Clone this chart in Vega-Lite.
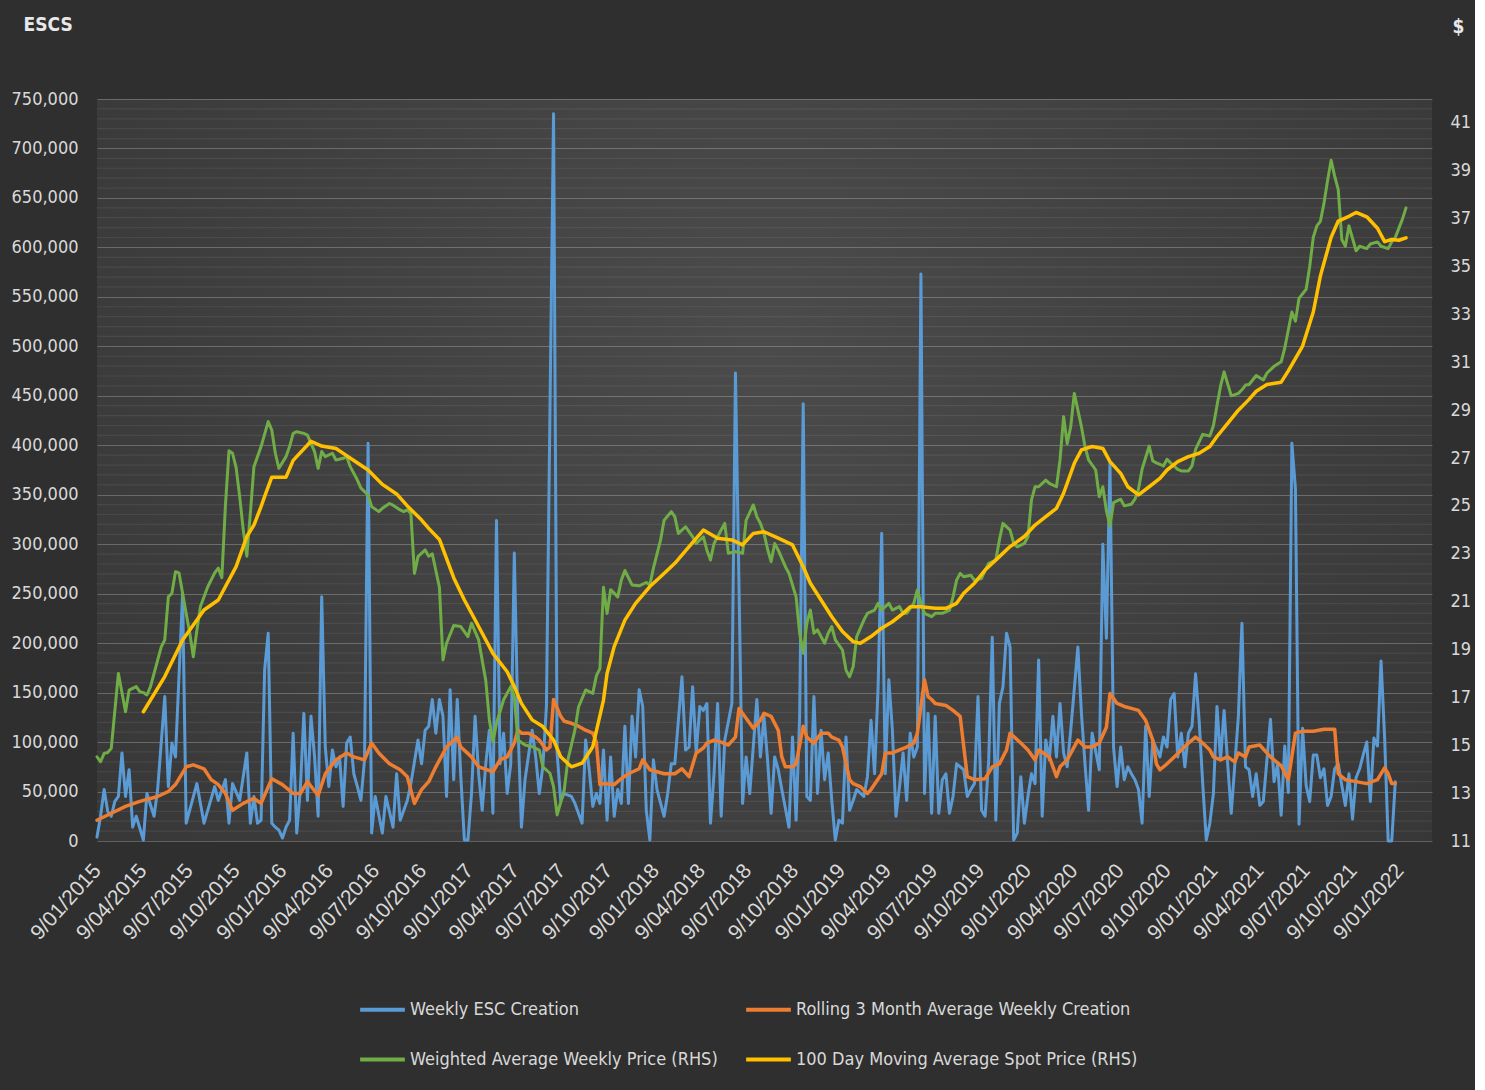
{
"$schema":"https://vega.github.io/schema/vega-lite/v6.json",
"width":1335,"height":742,
"autosize":{"type":"none"},
"padding":{"left":97,"top":99,"right":43,"bottom":249},
"background":"#2f2f2f",
"config":{
"font":"DejaVu Sans Condensed, sans-serif",
"view":{"stroke":null,"fill":{"gradient":"radial","x1":0.5,"y1":0.4,"x2":0.5,"y2":0.4,"r1":0,"r2":0.8,"stops":[{"offset":0,"color":"#4b4b4b"},{"offset":1,"color":"#323232"}]}},
"axis":{"domain":false,"ticks":false,"labelOverlap":false,"labelColor":"#d9d9d9","labelFont":"DejaVu Sans Condensed, sans-serif","labelFontSize":18,"titleColor":"#e8e8e8","titleFont":"DejaVu Sans Condensed, sans-serif"},
"line":{"strokeJoin":"round","strokeCap":"round"}
},
"datasets":{
"minorgrid":[{"g":10000},{"g":20000},{"g":30000},{"g":40000},{"g":60000},{"g":70000},{"g":80000},{"g":90000},{"g":110000},{"g":120000},{"g":130000},{"g":140000},{"g":160000},{"g":170000},{"g":180000},{"g":190000},{"g":210000},{"g":220000},{"g":230000},{"g":240000},{"g":260000},{"g":270000},{"g":280000},{"g":290000},{"g":310000},{"g":320000},{"g":330000},{"g":340000},{"g":360000},{"g":370000},{"g":380000},{"g":390000},{"g":410000},{"g":420000},{"g":430000},{"g":440000},{"g":460000},{"g":470000},{"g":480000},{"g":490000},{"g":510000},{"g":520000},{"g":530000},{"g":540000},{"g":560000},{"g":570000},{"g":580000},{"g":590000},{"g":610000},{"g":620000},{"g":630000},{"g":640000},{"g":660000},{"g":670000},{"g":680000},{"g":690000},{"g":710000},{"g":720000},{"g":730000},{"g":740000}],
"blue":[
{"d":"2015-01-09","v":4000},{"d":"2015-01-16","v":25000},{"d":"2015-01-23","v":52000},{"d":"2015-01-30","v":30000},{"d":"2015-02-06","v":25000},{"d":"2015-02-13","v":40000},{"d":"2015-02-20","v":45000},{"d":"2015-02-27","v":89000},{"d":"2015-03-06","v":45000},{"d":"2015-03-13","v":72000},{"d":"2015-03-20","v":14000},{"d":"2015-03-27","v":25000},{"d":"2015-04-10","v":1000},{"d":"2015-04-17","v":48000},{"d":"2015-05-01","v":25000},{"d":"2015-05-08","v":52000},{"d":"2015-05-22","v":146000},{"d":"2015-05-29","v":55000},{"d":"2015-06-05","v":99000},{"d":"2015-06-12","v":85000},{"d":"2015-06-26","v":250000},{"d":"2015-07-03","v":18000},{"d":"2015-07-24","v":58000},{"d":"2015-08-07","v":18000},{"d":"2015-08-28","v":55000},{"d":"2015-09-04","v":41000},{"d":"2015-09-18","v":62000},{"d":"2015-09-25","v":18000},{"d":"2015-10-02","v":58000},{"d":"2015-10-16","v":41000},{"d":"2015-10-30","v":89000},{"d":"2015-11-06","v":18000},{"d":"2015-11-13","v":45000},{"d":"2015-11-20","v":18000},{"d":"2015-11-27","v":21000},{"d":"2015-12-04","v":173000},{"d":"2015-12-11","v":210000},{"d":"2015-12-18","v":18000},{"d":"2015-12-25","v":14000},
{"d":"2016-01-01","v":11000},{"d":"2016-01-08","v":3000},{"d":"2016-01-15","v":14000},{"d":"2016-01-22","v":21000},{"d":"2016-01-29","v":109000},{"d":"2016-02-05","v":8000},{"d":"2016-02-12","v":52000},{"d":"2016-02-19","v":129000},{"d":"2016-02-26","v":41000},{"d":"2016-03-04","v":126000},{"d":"2016-03-11","v":85000},{"d":"2016-03-18","v":25000},{"d":"2016-03-25","v":247000},{"d":"2016-04-01","v":95000},{"d":"2016-04-08","v":55000},{"d":"2016-04-15","v":92000},{"d":"2016-04-22","v":75000},{"d":"2016-04-29","v":85000},{"d":"2016-05-06","v":35000},{"d":"2016-05-13","v":99000},{"d":"2016-05-20","v":105000},{"d":"2016-05-27","v":68000},{"d":"2016-06-03","v":55000},{"d":"2016-06-10","v":41000},{"d":"2016-06-17","v":82000},{"d":"2016-06-24","v":402000},{"d":"2016-07-01","v":8000},{"d":"2016-07-08","v":45000},{"d":"2016-07-22","v":8000},{"d":"2016-07-29","v":45000},{"d":"2016-08-12","v":14000},{"d":"2016-08-19","v":68000},{"d":"2016-08-26","v":21000},{"d":"2016-09-09","v":41000},{"d":"2016-09-16","v":58000},{"d":"2016-09-30","v":102000},{"d":"2016-10-07","v":78000},{"d":"2016-10-14","v":112000},{"d":"2016-10-21","v":116000},{"d":"2016-10-28","v":143000},{"d":"2016-11-04","v":109000},{"d":"2016-11-11","v":143000},{"d":"2016-11-18","v":126000},{"d":"2016-11-25","v":45000},{"d":"2016-12-02","v":153000},{"d":"2016-12-09","v":62000},{"d":"2016-12-16","v":143000},{"d":"2016-12-23","v":65000},{"d":"2016-12-30","v":1000},
{"d":"2017-01-06","v":1000},{"d":"2017-01-13","v":48000},{"d":"2017-01-20","v":126000},{"d":"2017-01-27","v":68000},{"d":"2017-02-03","v":31000},{"d":"2017-02-10","v":78000},{"d":"2017-02-17","v":112000},{"d":"2017-02-24","v":28000},{"d":"2017-03-03","v":324000},{"d":"2017-03-10","v":78000},{"d":"2017-03-17","v":109000},{"d":"2017-03-24","v":48000},{"d":"2017-03-31","v":78000},{"d":"2017-04-07","v":291000},{"d":"2017-04-14","v":119000},{"d":"2017-04-21","v":14000},{"d":"2017-04-28","v":62000},{"d":"2017-05-12","v":112000},{"d":"2017-05-19","v":85000},{"d":"2017-05-26","v":48000},{"d":"2017-06-02","v":75000},{"d":"2017-06-09","v":136000},{"d":"2017-06-23","v":735000},{"d":"2017-06-30","v":89000},{"d":"2017-07-07","v":41000},{"d":"2017-07-14","v":48000},{"d":"2017-07-28","v":45000},{"d":"2017-08-04","v":38000},{"d":"2017-08-18","v":18000},{"d":"2017-08-25","v":102000},{"d":"2017-09-01","v":72000},{"d":"2017-09-08","v":35000},{"d":"2017-09-15","v":48000},{"d":"2017-09-22","v":38000},{"d":"2017-09-29","v":92000},{"d":"2017-10-06","v":21000},{"d":"2017-10-13","v":85000},{"d":"2017-10-20","v":25000},{"d":"2017-10-27","v":52000},{"d":"2017-11-03","v":38000},{"d":"2017-11-10","v":116000},{"d":"2017-11-17","v":38000},{"d":"2017-11-24","v":126000},{"d":"2017-12-01","v":85000},{"d":"2017-12-08","v":153000},{"d":"2017-12-15","v":136000},{"d":"2017-12-22","v":31000},{"d":"2017-12-29","v":1000},
{"d":"2018-01-05","v":82000},{"d":"2018-01-12","v":52000},{"d":"2018-01-26","v":25000},{"d":"2018-02-02","v":48000},{"d":"2018-02-09","v":78000},{"d":"2018-02-16","v":78000},{"d":"2018-03-02","v":166000},{"d":"2018-03-09","v":92000},{"d":"2018-03-16","v":95000},{"d":"2018-03-23","v":156000},{"d":"2018-03-30","v":89000},{"d":"2018-04-06","v":136000},{"d":"2018-04-13","v":132000},{"d":"2018-04-20","v":139000},{"d":"2018-04-27","v":18000},{"d":"2018-05-04","v":68000},{"d":"2018-05-11","v":139000},{"d":"2018-05-18","v":25000},{"d":"2018-05-25","v":102000},{"d":"2018-06-08","v":139000},{"d":"2018-06-15","v":473000},{"d":"2018-06-29","v":38000},{"d":"2018-07-06","v":85000},{"d":"2018-07-13","v":48000},{"d":"2018-07-27","v":143000},{"d":"2018-08-03","v":85000},{"d":"2018-08-10","v":126000},{"d":"2018-08-17","v":82000},{"d":"2018-08-24","v":28000},{"d":"2018-08-31","v":85000},{"d":"2018-09-07","v":72000},{"d":"2018-09-14","v":52000},{"d":"2018-09-28","v":14000},{"d":"2018-10-05","v":105000},{"d":"2018-10-12","v":21000},{"d":"2018-10-19","v":126000},{"d":"2018-10-26","v":442000},{"d":"2018-11-02","v":45000},{"d":"2018-11-09","v":41000},{"d":"2018-11-16","v":146000},{"d":"2018-11-23","v":48000},{"d":"2018-11-30","v":112000},{"d":"2018-12-07","v":62000},{"d":"2018-12-14","v":89000},{"d":"2018-12-21","v":41000},{"d":"2018-12-28","v":1000},
{"d":"2019-01-04","v":21000},{"d":"2019-01-11","v":18000},{"d":"2019-01-18","v":105000},{"d":"2019-01-25","v":31000},{"d":"2019-02-01","v":41000},{"d":"2019-02-08","v":52000},{"d":"2019-02-22","v":45000},{"d":"2019-03-01","v":65000},{"d":"2019-03-08","v":122000},{"d":"2019-03-15","v":68000},{"d":"2019-03-22","v":156000},{"d":"2019-03-29","v":311000},{"d":"2019-04-05","v":68000},{"d":"2019-04-12","v":163000},{"d":"2019-04-19","v":112000},{"d":"2019-04-26","v":25000},{"d":"2019-05-03","v":55000},{"d":"2019-05-10","v":89000},{"d":"2019-05-17","v":41000},{"d":"2019-05-24","v":109000},{"d":"2019-05-31","v":85000},{"d":"2019-06-07","v":95000},{"d":"2019-06-14","v":573000},{"d":"2019-06-21","v":48000},{"d":"2019-06-28","v":129000},{"d":"2019-07-05","v":28000},{"d":"2019-07-12","v":126000},{"d":"2019-07-19","v":28000},{"d":"2019-07-26","v":62000},{"d":"2019-08-02","v":68000},{"d":"2019-08-09","v":28000},{"d":"2019-08-16","v":45000},{"d":"2019-08-23","v":78000},{"d":"2019-09-06","v":72000},{"d":"2019-09-13","v":45000},{"d":"2019-09-20","v":52000},{"d":"2019-09-27","v":58000},{"d":"2019-10-04","v":146000},{"d":"2019-10-11","v":31000},{"d":"2019-10-18","v":25000},{"d":"2019-10-25","v":82000},{"d":"2019-11-01","v":206000},{"d":"2019-11-08","v":21000},{"d":"2019-11-15","v":139000},{"d":"2019-11-22","v":156000},{"d":"2019-11-29","v":210000},{"d":"2019-12-06","v":196000},{"d":"2019-12-13","v":1000},{"d":"2019-12-20","v":8000},{"d":"2019-12-27","v":65000},
{"d":"2020-01-03","v":18000},{"d":"2020-01-10","v":45000},{"d":"2020-01-17","v":68000},{"d":"2020-01-24","v":58000},{"d":"2020-01-31","v":183000},{"d":"2020-02-07","v":25000},{"d":"2020-02-14","v":102000},{"d":"2020-02-21","v":82000},{"d":"2020-02-28","v":126000},{"d":"2020-03-06","v":85000},{"d":"2020-03-13","v":139000},{"d":"2020-03-20","v":89000},{"d":"2020-03-27","v":75000},{"d":"2020-04-03","v":112000},{"d":"2020-04-17","v":196000},{"d":"2020-04-24","v":129000},{"d":"2020-05-01","v":78000},{"d":"2020-05-08","v":31000},{"d":"2020-05-15","v":109000},{"d":"2020-05-29","v":72000},{"d":"2020-06-05","v":300000},{"d":"2020-06-12","v":205000},{"d":"2020-06-19","v":382000},{"d":"2020-06-26","v":95000},{"d":"2020-07-03","v":55000},{"d":"2020-07-10","v":95000},{"d":"2020-07-17","v":62000},{"d":"2020-07-24","v":75000},{"d":"2020-07-31","v":68000},{"d":"2020-08-07","v":62000},{"d":"2020-08-14","v":52000},{"d":"2020-08-21","v":18000},{"d":"2020-08-28","v":116000},{"d":"2020-09-04","v":45000},{"d":"2020-09-11","v":102000},{"d":"2020-09-25","v":85000},{"d":"2020-10-02","v":105000},{"d":"2020-10-09","v":95000},{"d":"2020-10-16","v":143000},{"d":"2020-10-23","v":149000},{"d":"2020-10-30","v":85000},{"d":"2020-11-06","v":109000},{"d":"2020-11-13","v":75000},{"d":"2020-11-20","v":109000},{"d":"2020-11-27","v":116000},{"d":"2020-12-04","v":169000},{"d":"2020-12-11","v":122000},{"d":"2020-12-18","v":58000},{"d":"2020-12-25","v":1000},
{"d":"2021-01-01","v":18000},{"d":"2021-01-08","v":48000},{"d":"2021-01-15","v":136000},{"d":"2021-01-22","v":82000},{"d":"2021-01-29","v":132000},{"d":"2021-02-05","v":78000},{"d":"2021-02-12","v":28000},{"d":"2021-02-26","v":126000},{"d":"2021-03-05","v":220000},{"d":"2021-03-12","v":75000},{"d":"2021-03-19","v":72000},{"d":"2021-03-26","v":45000},{"d":"2021-04-02","v":68000},{"d":"2021-04-09","v":36000},{"d":"2021-04-16","v":40000},{"d":"2021-04-30","v":123000},{"d":"2021-05-07","v":60000},{"d":"2021-05-14","v":78000},{"d":"2021-05-21","v":26000},{"d":"2021-05-28","v":96000},{"d":"2021-06-04","v":49000},{"d":"2021-06-11","v":402000},{"d":"2021-06-18","v":356000},{"d":"2021-06-25","v":17000},{"d":"2021-07-02","v":114000},{"d":"2021-07-09","v":56000},{"d":"2021-07-16","v":40000},{"d":"2021-07-23","v":87000},{"d":"2021-07-30","v":87000},{"d":"2021-08-06","v":64000},{"d":"2021-08-13","v":73000},{"d":"2021-08-20","v":36000},{"d":"2021-08-27","v":45000},{"d":"2021-09-03","v":73000},{"d":"2021-09-10","v":78000},{"d":"2021-09-17","v":56000},{"d":"2021-09-24","v":36000},{"d":"2021-10-01","v":68000},{"d":"2021-10-08","v":22000},{"d":"2021-10-15","v":64000},{"d":"2021-10-22","v":73000},{"d":"2021-10-29","v":87000},{"d":"2021-11-05","v":100000},{"d":"2021-11-12","v":40000},{"d":"2021-11-19","v":104000},{"d":"2021-11-26","v":96000},{"d":"2021-12-03","v":182000},{"d":"2021-12-10","v":105000},{"d":"2021-12-17","v":0},{"d":"2021-12-24","v":0},{"d":"2021-12-31","v":60000}
],
"orange":[
{"d":"2015-01-09","v":21000},{"d":"2015-02-06","v":28000},{"d":"2015-03-06","v":35000},{"d":"2015-04-03","v":40000},{"d":"2015-05-08","v":45000},{"d":"2015-05-29","v":50000},{"d":"2015-06-12","v":57000},{"d":"2015-07-03","v":75000},{"d":"2015-07-17","v":77000},{"d":"2015-08-07","v":73000},{"d":"2015-08-21","v":62000},{"d":"2015-09-04","v":57000},{"d":"2015-09-18","v":48000},{"d":"2015-10-02","v":31000},{"d":"2015-10-23","v":38000},{"d":"2015-11-13","v":43000},{"d":"2015-11-27","v":38000},{"d":"2015-12-18","v":63000},
{"d":"2016-01-08","v":57000},{"d":"2016-01-29","v":48000},{"d":"2016-02-12","v":48000},{"d":"2016-02-26","v":60000},{"d":"2016-03-18","v":46000},{"d":"2016-04-01","v":68000},{"d":"2016-04-22","v":82000},{"d":"2016-05-13","v":89000},{"d":"2016-05-27","v":85000},{"d":"2016-06-17","v":82000},{"d":"2016-07-01","v":99000},{"d":"2016-07-15","v":89000},{"d":"2016-08-05","v":78000},{"d":"2016-08-26","v":72000},{"d":"2016-09-09","v":65000},{"d":"2016-09-23","v":38000},{"d":"2016-10-07","v":52000},{"d":"2016-10-21","v":60000},{"d":"2016-11-04","v":75000},{"d":"2016-11-25","v":95000},{"d":"2016-12-16","v":105000},{"d":"2016-12-23","v":95000},
{"d":"2017-01-13","v":85000},{"d":"2017-01-27","v":75000},{"d":"2017-02-24","v":70000},{"d":"2017-03-10","v":82000},{"d":"2017-03-24","v":85000},{"d":"2017-04-07","v":99000},{"d":"2017-04-14","v":112000},{"d":"2017-04-21","v":109000},{"d":"2017-05-05","v":109000},{"d":"2017-05-19","v":105000},{"d":"2017-05-26","v":102000},{"d":"2017-06-09","v":92000},{"d":"2017-06-16","v":95000},{"d":"2017-06-23","v":143000},{"d":"2017-07-07","v":126000},{"d":"2017-07-14","v":121000},{"d":"2017-07-28","v":119000},{"d":"2017-08-11","v":116000},{"d":"2017-08-25","v":112000},{"d":"2017-09-08","v":109000},{"d":"2017-09-15","v":100000},{"d":"2017-09-22","v":57000},{"d":"2017-09-29","v":58000},{"d":"2017-10-20","v":57000},{"d":"2017-11-03","v":63000},{"d":"2017-11-17","v":68000},{"d":"2017-12-08","v":73000},{"d":"2017-12-15","v":82000},{"d":"2017-12-29","v":72000},
{"d":"2018-01-12","v":70000},{"d":"2018-01-26","v":68000},{"d":"2018-02-16","v":68000},{"d":"2018-03-02","v":73000},{"d":"2018-03-16","v":65000},{"d":"2018-03-30","v":89000},{"d":"2018-04-13","v":94000},{"d":"2018-04-20","v":99000},{"d":"2018-05-04","v":102000},{"d":"2018-05-18","v":100000},{"d":"2018-06-01","v":97000},{"d":"2018-06-15","v":105000},{"d":"2018-06-22","v":134000},{"d":"2018-07-13","v":119000},{"d":"2018-07-20","v":114000},{"d":"2018-08-03","v":122000},{"d":"2018-08-10","v":129000},{"d":"2018-08-24","v":126000},{"d":"2018-09-07","v":112000},{"d":"2018-09-14","v":85000},{"d":"2018-09-21","v":75000},{"d":"2018-10-05","v":75000},{"d":"2018-10-12","v":78000},{"d":"2018-10-26","v":116000},{"d":"2018-11-02","v":105000},{"d":"2018-11-16","v":99000},{"d":"2018-11-30","v":109000},{"d":"2018-12-14","v":109000},{"d":"2018-12-21","v":105000},
{"d":"2019-01-04","v":102000},{"d":"2019-01-11","v":95000},{"d":"2019-01-25","v":62000},{"d":"2019-02-01","v":58000},{"d":"2019-02-15","v":55000},{"d":"2019-03-01","v":48000},{"d":"2019-03-08","v":52000},{"d":"2019-03-29","v":68000},{"d":"2019-04-05","v":89000},{"d":"2019-04-19","v":89000},{"d":"2019-05-03","v":92000},{"d":"2019-05-17","v":95000},{"d":"2019-05-31","v":99000},{"d":"2019-06-07","v":109000},{"d":"2019-06-21","v":163000},{"d":"2019-06-28","v":146000},{"d":"2019-07-05","v":143000},{"d":"2019-07-12","v":139000},{"d":"2019-08-02","v":137000},{"d":"2019-08-16","v":132000},{"d":"2019-08-30","v":126000},{"d":"2019-09-13","v":65000},{"d":"2019-09-27","v":62000},{"d":"2019-10-18","v":63000},{"d":"2019-11-01","v":75000},{"d":"2019-11-15","v":78000},{"d":"2019-11-29","v":92000},{"d":"2019-12-06","v":109000},{"d":"2019-12-27","v":99000},
{"d":"2020-01-10","v":92000},{"d":"2020-01-24","v":82000},{"d":"2020-01-31","v":92000},{"d":"2020-02-21","v":85000},{"d":"2020-03-06","v":65000},{"d":"2020-03-13","v":75000},{"d":"2020-03-27","v":82000},{"d":"2020-04-17","v":102000},{"d":"2020-05-01","v":95000},{"d":"2020-05-15","v":95000},{"d":"2020-05-29","v":99000},{"d":"2020-06-12","v":115000},{"d":"2020-06-19","v":149000},{"d":"2020-07-03","v":139000},{"d":"2020-07-17","v":136000},{"d":"2020-07-31","v":134000},{"d":"2020-08-14","v":132000},{"d":"2020-08-28","v":122000},{"d":"2020-09-11","v":102000},{"d":"2020-09-18","v":78000},{"d":"2020-09-25","v":72000},{"d":"2020-10-09","v":78000},{"d":"2020-10-23","v":85000},{"d":"2020-11-06","v":92000},{"d":"2020-11-20","v":99000},{"d":"2020-12-04","v":105000},{"d":"2020-12-18","v":99000},
{"d":"2021-01-01","v":92000},{"d":"2021-01-08","v":85000},{"d":"2021-01-22","v":82000},{"d":"2021-02-05","v":85000},{"d":"2021-02-19","v":80000},{"d":"2021-02-26","v":89000},{"d":"2021-03-12","v":85000},{"d":"2021-03-19","v":95000},{"d":"2021-04-09","v":97000},{"d":"2021-04-30","v":85000},{"d":"2021-05-21","v":76000},{"d":"2021-06-04","v":62000},{"d":"2021-06-18","v":109000},{"d":"2021-07-02","v":111000},{"d":"2021-07-23","v":111000},{"d":"2021-08-13","v":113000},{"d":"2021-09-03","v":113000},{"d":"2021-09-10","v":68000},{"d":"2021-09-24","v":62000},{"d":"2021-10-15","v":60000},{"d":"2021-11-05","v":58000},{"d":"2021-11-26","v":62000},{"d":"2021-12-10","v":74000},{"d":"2021-12-17","v":68000},{"d":"2021-12-24","v":58000},{"d":"2021-12-31","v":58000}
],
"green":[
{"d":"2015-01-09","v":14.52},{"d":"2015-01-16","v":14.31},{"d":"2015-01-23","v":14.66},{"d":"2015-01-30","v":14.7},{"d":"2015-02-06","v":14.87},{"d":"2015-02-20","v":18.0},{"d":"2015-03-06","v":16.4},{"d":"2015-03-13","v":17.3},{"d":"2015-03-27","v":17.45},{"d":"2015-04-03","v":17.24},{"d":"2015-04-10","v":17.2},{"d":"2015-04-17","v":17.1},{"d":"2015-04-24","v":17.45},{"d":"2015-05-01","v":18.0},{"d":"2015-05-15","v":19.1},{"d":"2015-05-22","v":19.4},{"d":"2015-05-29","v":21.2},{"d":"2015-06-05","v":21.35},{"d":"2015-06-12","v":22.25},{"d":"2015-06-19","v":22.2},{"d":"2015-06-26","v":21.35},{"d":"2015-07-03","v":20.5},{"d":"2015-07-10","v":19.7},{"d":"2015-07-17","v":18.7},{"d":"2015-07-24","v":19.8},{"d":"2015-07-31","v":20.8},{"d":"2015-08-14","v":21.6},{"d":"2015-08-28","v":22.2},{"d":"2015-09-04","v":22.4},{"d":"2015-09-11","v":22.0},{"d":"2015-09-18","v":25.0},{"d":"2015-09-25","v":27.3},{"d":"2015-10-02","v":27.2},{"d":"2015-10-09","v":26.6},{"d":"2015-10-16","v":25.4},{"d":"2015-10-23","v":24.0},{"d":"2015-10-30","v":22.9},{"d":"2015-11-06","v":24.7},{"d":"2015-11-13","v":26.64},{"d":"2015-11-27","v":27.48},{"d":"2015-12-11","v":28.52},{"d":"2015-12-18","v":28.17},{"d":"2015-12-25","v":27.2},
{"d":"2016-01-01","v":26.57},{"d":"2016-01-15","v":27.06},{"d":"2016-01-22","v":27.48},{"d":"2016-01-29","v":28.03},{"d":"2016-02-05","v":28.1},{"d":"2016-02-19","v":28.03},{"d":"2016-02-26","v":27.96},{"d":"2016-03-11","v":27.27},{"d":"2016-03-18","v":26.57},{"d":"2016-03-25","v":27.27},{"d":"2016-04-01","v":27.06},{"d":"2016-04-15","v":27.2},{"d":"2016-04-22","v":26.92},{"d":"2016-05-06","v":26.99},{"d":"2016-05-13","v":27.06},{"d":"2016-05-20","v":26.64},{"d":"2016-06-03","v":26.08},{"d":"2016-06-10","v":25.74},{"d":"2016-06-24","v":25.46},{"d":"2016-07-01","v":24.97},{"d":"2016-07-15","v":24.76},{"d":"2016-07-22","v":24.9},{"d":"2016-08-05","v":25.1},{"d":"2016-08-12","v":25.03},{"d":"2016-08-26","v":24.83},{"d":"2016-09-02","v":24.76},{"d":"2016-09-09","v":24.83},{"d":"2016-09-16","v":24.69},{"d":"2016-09-23","v":22.18},{"d":"2016-09-30","v":22.88},{"d":"2016-10-14","v":23.16},{"d":"2016-10-21","v":22.9},{"d":"2016-10-28","v":23.0},{"d":"2016-11-11","v":21.6},{"d":"2016-11-18","v":18.56},{"d":"2016-11-25","v":19.26},{"d":"2016-12-09","v":20.0},{"d":"2016-12-23","v":19.96},
{"d":"2017-01-06","v":19.54},{"d":"2017-01-13","v":20.1},{"d":"2017-01-27","v":19.4},{"d":"2017-02-10","v":17.7},{"d":"2017-02-17","v":16.06},{"d":"2017-02-24","v":15.15},{"d":"2017-03-03","v":15.92},{"d":"2017-03-17","v":16.9},{"d":"2017-03-31","v":17.45},{"d":"2017-04-07","v":17.03},{"d":"2017-04-14","v":15.22},{"d":"2017-04-28","v":15.01},{"d":"2017-05-12","v":14.94},{"d":"2017-05-26","v":14.8},{"d":"2017-06-02","v":14.1},{"d":"2017-06-16","v":13.83},{"d":"2017-06-23","v":13.27},{"d":"2017-06-30","v":12.09},{"d":"2017-07-14","v":13.13},{"d":"2017-07-21","v":14.38},{"d":"2017-08-04","v":15.64},{"d":"2017-08-11","v":16.6},{"d":"2017-08-25","v":17.31},{"d":"2017-09-08","v":17.17},{"d":"2017-09-15","v":17.9},{"d":"2017-09-22","v":18.2},{"d":"2017-09-29","v":21.6},{"d":"2017-10-06","v":20.5},{"d":"2017-10-13","v":21.5},{"d":"2017-10-27","v":21.2},{"d":"2017-11-03","v":21.9},{"d":"2017-11-10","v":22.3},{"d":"2017-11-24","v":21.7},{"d":"2017-12-08","v":21.66},{"d":"2017-12-22","v":21.8},{"d":"2017-12-29","v":21.7},
{"d":"2018-01-05","v":22.4},{"d":"2018-01-19","v":23.57},{"d":"2018-01-26","v":24.4},{"d":"2018-02-09","v":24.76},{"d":"2018-02-16","v":24.55},{"d":"2018-02-23","v":23.85},{"d":"2018-03-09","v":24.13},{"d":"2018-03-23","v":23.71},{"d":"2018-03-30","v":23.43},{"d":"2018-04-13","v":23.71},{"d":"2018-04-20","v":23.15},{"d":"2018-04-27","v":22.74},{"d":"2018-05-04","v":23.43},{"d":"2018-05-18","v":23.99},{"d":"2018-05-25","v":24.27},{"d":"2018-06-01","v":23.02},{"d":"2018-06-15","v":23.09},{"d":"2018-06-29","v":23.02},{"d":"2018-07-06","v":24.41},{"d":"2018-07-20","v":25.04},{"d":"2018-07-27","v":24.55},{"d":"2018-08-03","v":24.27},{"d":"2018-08-10","v":23.85},{"d":"2018-08-17","v":23.2},{"d":"2018-08-24","v":22.67},{"d":"2018-08-31","v":23.43},{"d":"2018-09-07","v":23.15},{"d":"2018-09-21","v":22.46},{"d":"2018-09-28","v":22.18},{"d":"2018-10-12","v":21.2},{"d":"2018-10-19","v":19.68},{"d":"2018-10-26","v":18.84},{"d":"2018-11-02","v":20.09},{"d":"2018-11-09","v":20.65},{"d":"2018-11-16","v":19.68},{"d":"2018-11-23","v":19.82},{"d":"2018-12-07","v":19.26},{"d":"2018-12-14","v":19.68},{"d":"2018-12-21","v":19.96},{"d":"2018-12-28","v":19.4},
{"d":"2019-01-11","v":18.98},{"d":"2019-01-18","v":18.14},{"d":"2019-01-25","v":17.86},{"d":"2019-02-01","v":18.28},{"d":"2019-02-08","v":19.54},{"d":"2019-02-22","v":20.23},{"d":"2019-03-01","v":20.51},{"d":"2019-03-15","v":20.65},{"d":"2019-03-22","v":20.93},{"d":"2019-03-29","v":20.65},{"d":"2019-04-12","v":20.93},{"d":"2019-04-19","v":20.65},{"d":"2019-05-03","v":20.79},{"d":"2019-05-10","v":20.51},{"d":"2019-05-17","v":20.51},{"d":"2019-05-31","v":20.93},{"d":"2019-06-07","v":21.49},{"d":"2019-06-14","v":20.93},{"d":"2019-06-21","v":20.51},{"d":"2019-07-05","v":20.37},{"d":"2019-07-12","v":20.51},{"d":"2019-07-26","v":20.51},{"d":"2019-08-09","v":20.65},{"d":"2019-08-16","v":21.2},{"d":"2019-08-23","v":21.9},{"d":"2019-08-30","v":22.18},{"d":"2019-09-06","v":22.04},{"d":"2019-09-20","v":22.1},{"d":"2019-09-27","v":21.9},{"d":"2019-10-11","v":21.97},{"d":"2019-10-18","v":22.32},{"d":"2019-10-25","v":22.6},{"d":"2019-11-08","v":22.74},{"d":"2019-11-15","v":23.58},{"d":"2019-11-22","v":24.27},{"d":"2019-12-06","v":23.99},{"d":"2019-12-13","v":23.43},{"d":"2019-12-20","v":23.29},
{"d":"2020-01-03","v":23.43},{"d":"2020-01-10","v":23.71},{"d":"2020-01-17","v":25.25},{"d":"2020-01-24","v":25.8},{"d":"2020-01-31","v":25.8},{"d":"2020-02-14","v":26.08},{"d":"2020-02-21","v":25.94},{"d":"2020-03-06","v":25.8},{"d":"2020-03-13","v":26.92},{"d":"2020-03-20","v":28.73},{"d":"2020-03-27","v":27.6},{"d":"2020-04-03","v":28.31},{"d":"2020-04-10","v":29.7},{"d":"2020-04-24","v":28.31},{"d":"2020-05-01","v":27.48},{"d":"2020-05-08","v":26.92},{"d":"2020-05-22","v":26.5},{"d":"2020-05-29","v":25.38},{"d":"2020-06-05","v":25.8},{"d":"2020-06-12","v":24.8},{"d":"2020-06-19","v":24.16},{"d":"2020-06-26","v":25.14},{"d":"2020-07-10","v":25.28},{"d":"2020-07-17","v":25.0},{"d":"2020-07-31","v":25.07},{"d":"2020-08-07","v":25.28},{"d":"2020-08-14","v":25.7},{"d":"2020-08-21","v":26.53},{"d":"2020-09-04","v":27.5},{"d":"2020-09-11","v":26.88},{"d":"2020-09-18","v":26.8},{"d":"2020-10-02","v":26.67},{"d":"2020-10-09","v":26.95},{"d":"2020-10-16","v":26.8},{"d":"2020-10-30","v":26.53},{"d":"2020-11-06","v":26.46},{"d":"2020-11-20","v":26.46},{"d":"2020-11-27","v":26.67},{"d":"2020-12-04","v":27.36},{"d":"2020-12-18","v":27.99},
{"d":"2021-01-01","v":27.92},{"d":"2021-01-08","v":28.35},{"d":"2021-01-15","v":29.18},{"d":"2021-01-22","v":30.0},{"d":"2021-01-29","v":30.6},{"d":"2021-02-12","v":29.6},{"d":"2021-02-26","v":29.7},{"d":"2021-03-05","v":29.85},{"d":"2021-03-12","v":30.05},{"d":"2021-03-19","v":30.07},{"d":"2021-04-02","v":30.45},{"d":"2021-04-16","v":30.26},{"d":"2021-04-23","v":30.55},{"d":"2021-05-07","v":30.83},{"d":"2021-05-21","v":31.02},{"d":"2021-05-28","v":31.59},{"d":"2021-06-04","v":32.35},{"d":"2021-06-11","v":33.1},{"d":"2021-06-18","v":32.72},{"d":"2021-06-25","v":33.67},{"d":"2021-07-09","v":34.05},{"d":"2021-07-16","v":35.0},{"d":"2021-07-23","v":36.22},{"d":"2021-07-30","v":36.7},{"d":"2021-08-06","v":36.89},{"d":"2021-08-13","v":37.64},{"d":"2021-08-20","v":38.59},{"d":"2021-08-27","v":39.44},{"d":"2021-09-03","v":38.78},{"d":"2021-09-10","v":38.21},{"d":"2021-09-17","v":36.13},{"d":"2021-09-24","v":35.85},{"d":"2021-10-01","v":36.7},{"d":"2021-10-15","v":35.66},{"d":"2021-10-22","v":35.85},{"d":"2021-11-05","v":35.75},{"d":"2021-11-12","v":35.94},{"d":"2021-11-26","v":36.03},{"d":"2021-12-03","v":35.85},{"d":"2021-12-17","v":35.75},{"d":"2021-12-24","v":36.03},{"d":"2021-12-31","v":36.22},{"d":"2022-01-14","v":36.98},{"d":"2022-01-21","v":37.45}
],
"yellow":[
{"d":"2015-04-10","v":16.4},{"d":"2015-05-22","v":17.87},{"d":"2015-06-26","v":19.4},{"d":"2015-07-24","v":20.23},{"d":"2015-08-07","v":20.65},{"d":"2015-09-04","v":21.07},{"d":"2015-10-09","v":22.46},{"d":"2015-10-30","v":23.72},{"d":"2015-11-13","v":24.2},{"d":"2015-11-27","v":24.97},{"d":"2015-12-04","v":25.4},{"d":"2015-12-18","v":26.2},{"d":"2016-01-15","v":26.2},{"d":"2016-01-29","v":26.9},{"d":"2016-03-04","v":27.7},{"d":"2016-03-25","v":27.5},{"d":"2016-04-22","v":27.4},{"d":"2016-05-13","v":27.1},{"d":"2016-05-27","v":26.9},{"d":"2016-06-24","v":26.5},{"d":"2016-07-22","v":25.9},{"d":"2016-08-19","v":25.5},{"d":"2016-09-09","v":25.0},{"d":"2016-10-07","v":24.41},{"d":"2016-10-21","v":24.06},{"d":"2016-11-11","v":23.6},{"d":"2016-12-09","v":22.0},{"d":"2016-12-30","v":21.07},{"d":"2017-01-27","v":19.96},{"d":"2017-02-24","v":18.84},{"d":"2017-03-24","v":18.07},{"d":"2017-04-07","v":17.45},{"d":"2017-04-21","v":16.75},{"d":"2017-05-12","v":16.06},{"d":"2017-06-02","v":15.78},{"d":"2017-06-23","v":15.22},{"d":"2017-07-07","v":14.52},{"d":"2017-07-28","v":14.1},{"d":"2017-08-18","v":14.25},{"d":"2017-09-08","v":14.94},{"d":"2017-09-29","v":16.89},{"d":"2017-10-06","v":18.0},{"d":"2017-10-20","v":19.12},{"d":"2017-11-10","v":20.23},{"d":"2017-12-01","v":20.93},{"d":"2017-12-29","v":21.63},{"d":"2018-01-19","v":22.04},{"d":"2018-02-16","v":22.6},{"d":"2018-03-16","v":23.3},{"d":"2018-04-13","v":23.99},{"d":"2018-05-11","v":23.65},{"d":"2018-06-08","v":23.58},{"d":"2018-06-29","v":23.37},{"d":"2018-07-20","v":23.85},{"d":"2018-08-10","v":23.92},{"d":"2018-09-07","v":23.65},{"d":"2018-10-05","v":23.37},{"d":"2018-10-26","v":22.46},{"d":"2018-11-09","v":21.77},{"d":"2018-11-30","v":21.07},{"d":"2018-12-21","v":20.37},{"d":"2019-01-11","v":19.75},{"d":"2019-02-01","v":19.33},{"d":"2019-02-15","v":19.26},{"d":"2019-03-08","v":19.54},{"d":"2019-03-29","v":19.89},{"d":"2019-04-19","v":20.16},{"d":"2019-05-10","v":20.51},{"d":"2019-05-24","v":20.79},{"d":"2019-06-14","v":20.79},{"d":"2019-07-12","v":20.72},{"d":"2019-08-02","v":20.72},{"d":"2019-08-23","v":20.93},{"d":"2019-09-06","v":21.35},{"d":"2019-09-27","v":21.77},{"d":"2019-10-18","v":22.32},{"d":"2019-11-15","v":22.88},{"d":"2019-12-06","v":23.3},{"d":"2020-01-03","v":23.72},{"d":"2020-01-24","v":24.2},{"d":"2020-02-14","v":24.55},{"d":"2020-03-06","v":24.9},{"d":"2020-03-20","v":25.53},{"d":"2020-04-10","v":26.78},{"d":"2020-04-24","v":27.34},{"d":"2020-05-15","v":27.48},{"d":"2020-06-05","v":27.4},{"d":"2020-06-19","v":26.85},{"d":"2020-07-10","v":26.36},{"d":"2020-07-24","v":25.8},{"d":"2020-08-14","v":25.46},{"d":"2020-09-04","v":25.8},{"d":"2020-09-25","v":26.15},{"d":"2020-10-09","v":26.5},{"d":"2020-10-30","v":26.85},{"d":"2020-11-20","v":27.06},{"d":"2020-12-11","v":27.2},{"d":"2021-01-01","v":27.48},{"d":"2021-01-15","v":27.9},{"d":"2021-02-05","v":28.45},{"d":"2021-02-26","v":29.0},{"d":"2021-03-19","v":29.45},{"d":"2021-04-02","v":29.79},{"d":"2021-04-23","v":30.07},{"d":"2021-05-21","v":30.17},{"d":"2021-06-04","v":30.64},{"d":"2021-07-02","v":31.68},{"d":"2021-07-23","v":33.1},{"d":"2021-08-06","v":34.61},{"d":"2021-08-27","v":36.22},{"d":"2021-09-10","v":36.9},{"d":"2021-10-01","v":37.1},{"d":"2021-10-15","v":37.26},{"d":"2021-11-05","v":37.08},{"d":"2021-11-26","v":36.6},{"d":"2021-12-10","v":36.04},{"d":"2021-12-24","v":36.13},{"d":"2022-01-07","v":36.1},{"d":"2022-01-21","v":36.2}
]
},
"layer":[
{"layer":[
{"data":{"name":"minorgrid"},"mark":{"type":"rule","color":"#ffffff","opacity":0.07,"strokeWidth":1.2},
"encoding":{"y":{"field":"g","type":"quantitative"}}},
{"data":{"name":"blue"},"mark":{"type":"line","strokeWidth":3},
"encoding":{
"x":{"field":"d","type":"temporal","scale":{"type":"utc","domain":[{"year":2015,"month":1,"date":9,"utc":true},{"year":2022,"month":3,"date":13,"utc":true}]},
"axis":{"title":null,"grid":false,"format":"%-d/%m/%Y","labelAngle":-48,"labelAlign":"right","labelBaseline":"middle","labelPadding":26,"labelFont":"Liberation Sans, Arial, sans-serif","labelFontSize":21,"labelOverlap":false,"labelFlush":false,"labelBound":false,
"values":[{"year":2015,"month":1,"date":9,"utc":true},{"year":2015,"month":4,"date":9,"utc":true},{"year":2015,"month":7,"date":9,"utc":true},{"year":2015,"month":10,"date":9,"utc":true},{"year":2016,"month":1,"date":9,"utc":true},{"year":2016,"month":4,"date":9,"utc":true},{"year":2016,"month":7,"date":9,"utc":true},{"year":2016,"month":10,"date":9,"utc":true},{"year":2017,"month":1,"date":9,"utc":true},{"year":2017,"month":4,"date":9,"utc":true},{"year":2017,"month":7,"date":9,"utc":true},{"year":2017,"month":10,"date":9,"utc":true},{"year":2018,"month":1,"date":9,"utc":true},{"year":2018,"month":4,"date":9,"utc":true},{"year":2018,"month":7,"date":9,"utc":true},{"year":2018,"month":10,"date":9,"utc":true},{"year":2019,"month":1,"date":9,"utc":true},{"year":2019,"month":4,"date":9,"utc":true},{"year":2019,"month":7,"date":9,"utc":true},{"year":2019,"month":10,"date":9,"utc":true},{"year":2020,"month":1,"date":9,"utc":true},{"year":2020,"month":4,"date":9,"utc":true},{"year":2020,"month":7,"date":9,"utc":true},{"year":2020,"month":10,"date":9,"utc":true},{"year":2021,"month":1,"date":9,"utc":true},{"year":2021,"month":4,"date":9,"utc":true},{"year":2021,"month":7,"date":9,"utc":true},{"year":2021,"month":10,"date":9,"utc":true},{"year":2022,"month":1,"date":9,"utc":true}]}},
"y":{"field":"v","type":"quantitative","scale":{"domain":[0,750000],"nice":false,"zero":true},
"axis":{"orient":"left","format":",d","labelOverlap":false,"values":[0,50000,100000,150000,200000,250000,300000,350000,400000,450000,500000,550000,600000,650000,700000,750000],
"labelPadding":19,"grid":true,"gridColor":"#ffffff","gridOpacity":0.24,"gridWidth":1.2,
"title":"ESCS","titleAngle":0,"titleX":-74,"titleY":-84,"titleAlign":"left","titleBaseline":"top","titleFontSize":19,"titleFontWeight":"bold"}},
"color":{"datum":"Weekly ESC Creation","type":"nominal",
"scale":{"domain":["Weekly ESC Creation","Rolling 3 Month Average Weekly Creation","Weighted Average Weekly Price (RHS)","100 Day Moving Average Spot Price (RHS)"],"range":["#5b9bd5","#ed7d31","#70ad47","#ffc000"]},
"legend":{"title":null,"orient":"none","direction":"horizontal","legendX":261,"legendY":886,"columns":2,"symbolType":"stroke","symbolSize":2000,"symbolStrokeWidth":4,"labelFontSize":18,"labelColor":"#d9d9d9","labelFont":"DejaVu Sans Condensed, sans-serif","labelLimit":600,"columnPadding":26,"rowPadding":16,"labelOffset":3}}}},
{"data":{"name":"orange"},"mark":{"type":"line","strokeWidth":3.5},
"encoding":{
"x":{"field":"d","type":"temporal"},
"y":{"field":"v","type":"quantitative"},
"color":{"datum":"Rolling 3 Month Average Weekly Creation","type":"nominal"}}}
]},
{"layer":[
{"data":{"name":"green"},"mark":{"type":"line","strokeWidth":3},
"encoding":{
"x":{"field":"d","type":"temporal"},
"y":{"field":"v","type":"quantitative","scale":{"domain":[11,42],"nice":false,"zero":false},
"axis":{"orient":"right","format":"d","labelOverlap":false,"values":[11,13,15,17,19,21,23,25,27,29,31,33,35,37,39,41],"grid":false,"labelPadding":18,
"title":"$","titleAngle":0,"titleX":20,"titleY":-82,"titleAlign":"left","titleBaseline":"top","titleFontSize":19,"titleFontWeight":"bold"}},
"color":{"datum":"Weighted Average Weekly Price (RHS)","type":"nominal"}}},
{"data":{"name":"yellow"},"mark":{"type":"line","strokeWidth":3.5},
"encoding":{
"x":{"field":"d","type":"temporal"},
"y":{"field":"v","type":"quantitative"},
"color":{"datum":"100 Day Moving Average Spot Price (RHS)","type":"nominal"}}}
]}
],
"resolve":{"scale":{"y":"independent"}}
}
